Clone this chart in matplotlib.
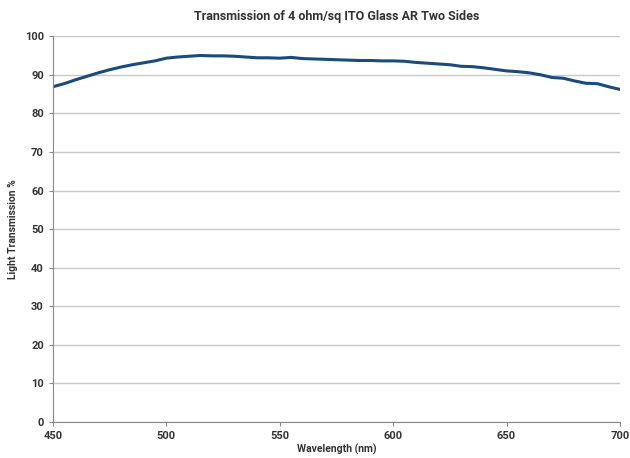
import numpy as np
import matplotlib
matplotlib.use("Agg")
import matplotlib.pyplot as plt

# Transmission curve
wavelength = np.arange(450, 701, 5)
transmission = [86.9, 87.7, 88.7, 89.6, 90.5, 91.3, 92.0, 92.6, 93.1, 93.6,
                94.3, 94.6, 94.8, 95.0, 94.9, 94.9, 94.8, 94.6, 94.4, 94.4,
                94.3, 94.5, 94.2, 94.1, 94.0, 93.9, 93.8, 93.7, 93.7, 93.6,
                93.6, 93.5, 93.2, 93.0, 92.8, 92.6, 92.2, 92.1, 91.8, 91.4,
                91.0, 90.8, 90.5, 90.0, 89.3, 89.1, 88.4, 87.8, 87.7, 86.9,
                86.2]

x_ticks = [450, 500, 550, 600, 650, 700]
y_ticks = list(range(0, 101, 10))

plt.rcParams["font.family"] = ["Roboto", "DejaVu Sans"]
text_color = "#333333"

fig = plt.figure(figsize=(6.3, 4.58), dpi=100)
ax = fig.add_axes([0.084, 0.0786, 0.9, 0.8424])

ax.plot(wavelength, transmission, color="#1c4a7e", linewidth=2.2)

ax.set_xlim(450, 700)
ax.set_ylim(0, 100)
ax.set_xticks(x_ticks)
ax.set_yticks(y_ticks)
ax.yaxis.grid(True, color="#c8c8c8", linewidth=1)
ax.set_axisbelow(True)

for side in ["top", "right"]:
    ax.spines[side].set_visible(False)
for side in ["left", "bottom"]:
    ax.spines[side].set_color("#888888")

ax.tick_params(axis="both", length=3, color="#888888", labelsize=8,
               labelcolor=text_color)
for lbl in ax.get_xticklabels() + ax.get_yticklabels():
    lbl.set_fontweight("bold")

ax.set_xlabel("Wavelength (nm)", fontsize=7.5, fontweight="bold", color=text_color, labelpad=2)
ax.set_ylabel("Light Transmission %", fontsize=7.5, fontweight="bold", color=text_color, labelpad=5)
ax.set_title("Transmission of 4 ohm/sq ITO Glass AR Two Sides", fontsize=9,
             fontweight="bold", color=text_color, pad=12)

plt.savefig("out.png", dpi=100)
